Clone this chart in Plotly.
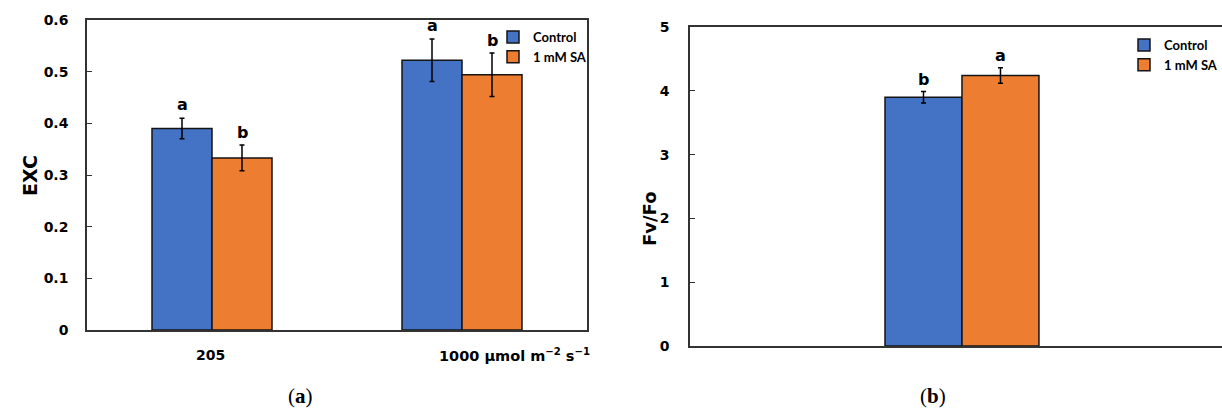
import plotly.graph_objects as go

# ---- data ----
cats_a = ["205", "1000"]
exc_control = [0.390, 0.522]
exc_control_err = [0.020, 0.041]
exc_sa = [0.333, 0.494]
exc_sa_err = [0.025, 0.042]
letters_control_a = ["a", "a"]
letters_sa_a = ["b", "b"]

cats_b = ["Fv/Fo"]
fvfo_control = [3.90]
fvfo_control_err = [0.09]
fvfo_sa = [4.24]
fvfo_sa_err = [0.12]
letters_control_b = ["b"]
letters_sa_b = ["a"]

series_names = ["Control", "1 mM SA"]
BLUE = "#4472C4"
ORANGE = "#ED7D31"
FONT = "Lato"
TICKFONT = "DejaVu Sans"

W, H = 1222, 410
BW_A = 0.24    # bar width in panel (a), category units
BW_B = 0.1415  # bar width in panel (b), category units

pos_a = list(range(len(cats_a)))
pos_b = list(range(len(cats_b)))

fig = go.Figure()

def bar(x, y, err, name, color, xa, ya, legend, width, offset):
    return go.Bar(
        x=x, y=y, name=name, xaxis=xa, yaxis=ya, legend=legend,
        width=width, offset=offset,
        marker=dict(color=color, line=dict(color="#141414", width=1.5)),
        error_y=dict(type="data", array=err, color="black", thickness=1.5, width=2.5),
    )

fig.add_trace(bar(pos_a, exc_control, exc_control_err, series_names[0], BLUE, "x", "y", "legend", BW_A, -BW_A))
fig.add_trace(bar(pos_a, exc_sa, exc_sa_err, series_names[1], ORANGE, "x", "y", "legend", BW_A, 0))
fig.add_trace(bar(pos_b, fvfo_control, fvfo_control_err, series_names[0], BLUE, "x2", "y2", "legend2", BW_B, -BW_B))
fig.add_trace(bar(pos_b, fvfo_sa, fvfo_sa_err, series_names[1], ORANGE, "x2", "y2", "legend2", BW_B, 0))

ann = []
letter_font = dict(family=TICKFONT, size=16, color="black", weight="bold")
for i, p in enumerate(pos_a):
    ann.append(dict(x=p - BW_A / 2, y=exc_control[i] + exc_control_err[i], xref="x", yref="y",
                    text=letters_control_a[i], showarrow=False, yshift=14,
                    xanchor="center", yanchor="middle", font=letter_font))
    ann.append(dict(x=p + BW_A / 2, y=exc_sa[i] + exc_sa_err[i], xref="x", yref="y",
                    text=letters_sa_a[i], showarrow=False, yshift=13,
                    xanchor="center", yanchor="middle", font=letter_font))
for i, p in enumerate(pos_b):
    ann.append(dict(x=p - BW_B / 2, y=fvfo_control[i] + fvfo_control_err[i], xref="x2", yref="y2",
                    text=letters_control_b[i], showarrow=False, yshift=12,
                    xanchor="center", yanchor="middle", font=letter_font))
    ann.append(dict(x=p + BW_B / 2, y=fvfo_sa[i] + fvfo_sa_err[i], xref="x2", yref="y2",
                    text=letters_sa_b[i], showarrow=False, yshift=12,
                    xanchor="center", yanchor="middle", font=letter_font))

tick_font = dict(family=TICKFONT, size=14, color="black", weight="bold")
xlab_y = 1 - 355 / H
ann.append(dict(x=pos_a[0], y=xlab_y, xref="x", yref="paper", xanchor="center", yanchor="middle",
                xshift=-2, text=cats_a[0], showarrow=False, font=tick_font))
ann.append(dict(x=pos_a[1], y=xlab_y, xref="x", yref="paper", xanchor="left", xshift=-25,
                yanchor="middle", text=cats_a[1] + " µmol m<sup>−2</sup> s<sup>−1</sup>",
                showarrow=False, font=dict(family=TICKFONT, size=14.5, color="black", weight="bold")))

# axis titles
ann.append(dict(x=30 / W, y=1 - 175 / H, xref="paper", yref="paper", text="EXC",
                textangle=-90, showarrow=False, xanchor="center", yanchor="middle",
                font=dict(family=TICKFONT, size=19, color="black", weight="bold")))
ann.append(dict(x=649 / W, y=1 - 218 / H, xref="paper", yref="paper", text="Fv/Fo",
                textangle=-90, showarrow=False, xanchor="center", yanchor="middle",
                font=dict(family=TICKFONT, size=18, color="black", weight="bold")))
# panel labels
ann.append(dict(x=300 / W, y=1 - 396 / H, xref="paper", yref="paper", xanchor="center",
                yanchor="middle", text="(<b>a</b>)", showarrow=False,
                font=dict(family="Liberation Serif", size=21, color="black")))
ann.append(dict(x=933 / W, y=1 - 396 / H, xref="paper", yref="paper", xanchor="center",
                yanchor="middle", text="(<b>b</b>)", showarrow=False,
                font=dict(family="Liberation Serif", size=21, color="black")))

axis_line = dict(showline=True, linecolor="#333333", linewidth=1.5, showgrid=False, zeroline=False)
leg_font = dict(family=FONT, size=13, color="black", weight="bold")

fig.update_layout(
    width=W, height=H,
    margin=dict(l=0, r=0, t=0, b=0, autoexpand=False),
    paper_bgcolor="white", plot_bgcolor="white",
    barmode="overlay",
    xaxis=dict(domain=[87 / W, 587 / W], anchor="y", range=[-0.5, 1.5], showticklabels=False,
               ticks="", mirror=True, **axis_line),
    yaxis=dict(domain=[1 - 330 / H, 1 - 20 / H], anchor="x", range=[0, 0.6],
               tickvals=[0, 0.1, 0.2, 0.3, 0.4, 0.5, 0.6],
               ticktext=["0", "0.1", "0.2", "0.3", "0.4", "0.5", "0.6"],
               ticks="inside", ticklen=5, tickcolor="#333333", tickwidth=1,
               ticklabelstandoff=14, tickfont=tick_font, mirror=True, **axis_line),
    xaxis2=dict(domain=[690 / W, 1.0], anchor="y2", showticklabels=False, ticks="",
                range=[-0.5, 0.478], mirror=True, **axis_line),
    yaxis2=dict(domain=[1 - 346 / H, 1 - 27 / H], anchor="x2", range=[0, 5],
                tickvals=[0, 1, 2, 3, 4, 5],
                ticks="inside", ticklen=5, tickcolor="#333333", tickwidth=1,
                ticklabelstandoff=16, tickfont=tick_font,
                mirror=False, **axis_line),
    annotations=ann,
    legend=dict(x=493 / W, y=1 - 22 / H, xanchor="left", yanchor="top",
                font=leg_font, itemwidth=30, tracegroupgap=0, bgcolor="rgba(0,0,0,0)"),
    legend2=dict(x=1124 / W, y=1 - 30 / H, xanchor="left", yanchor="top",
                 font=leg_font, itemwidth=30, tracegroupgap=0, bgcolor="rgba(0,0,0,0)"),
    showlegend=True,
)

fig.write_html("out.html", config={"displayModeBar": False})
with open("out.html", encoding="utf-8") as f:
    html = f.read()
html = html.replace("<head>", "<head><style>html,body{margin:0;padding:0;overflow:hidden;}</style>", 1)
with open("out.html", "w", encoding="utf-8") as f:
    f.write(html)
